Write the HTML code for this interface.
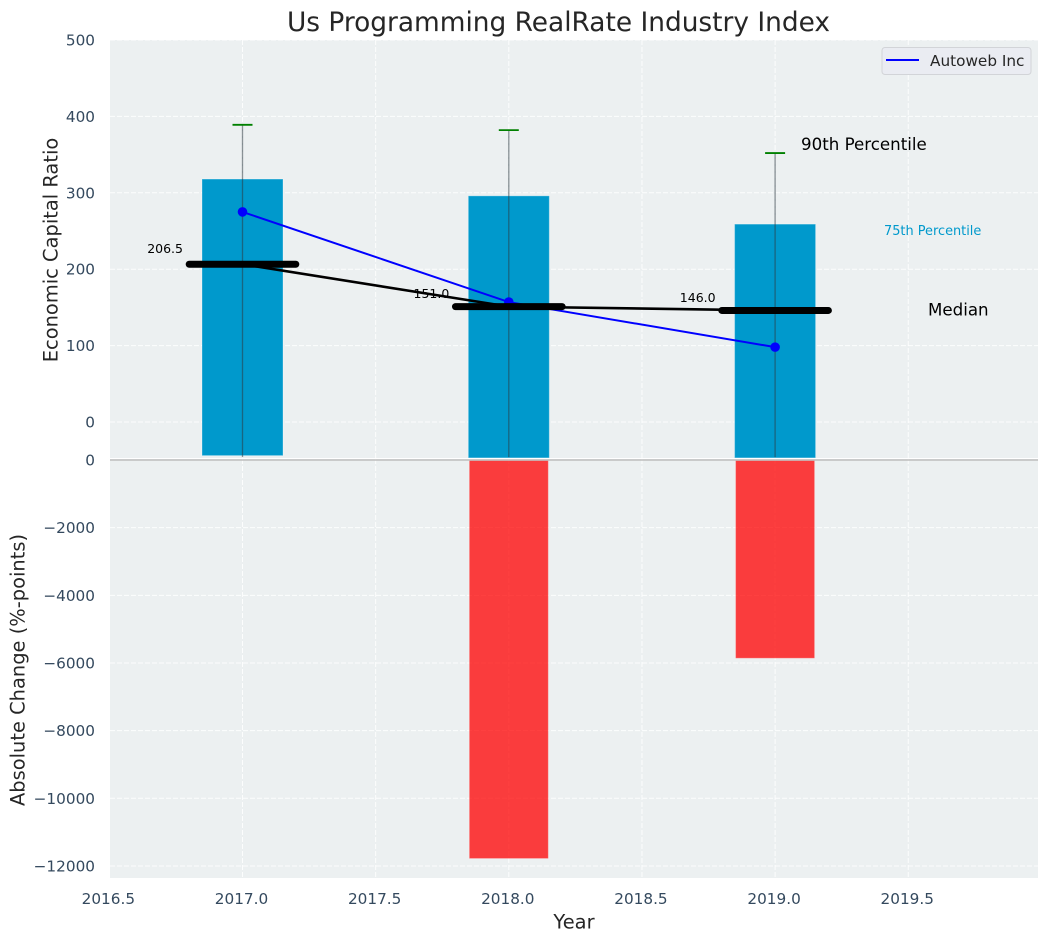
<!DOCTYPE html>
<html lang="en">
<head>
<meta charset="utf-8">
<title>Us Programming RealRate Industry Index</title>
<style>
html,body{margin:0;padding:0;background:#fff;width:1048px;height:942px;overflow:hidden}
svg{display:block;font-family:"DejaVu Sans","Liberation Sans",sans-serif}
</style>
</head>
<body>
<svg id="chart" width="1048" height="942" viewBox="0 0 1048 942" xmlns="http://www.w3.org/2000/svg">
  <text x="558.5" y="31" text-anchor="middle" font-size="26.4" fill="#262626">Us Programming RealRate Industry Index</text>
  <rect x="110" y="40" width="928" height="418" fill="#ecf0f1"/>
  <rect x="110" y="459" width="928" height="419" fill="#ecf0f1"/>
  <g id="grid"></g>
  <g id="lowerBars"></g>
  <g id="upperBars"></g>
  <line x1="110" x2="1038" y1="460" y2="460" stroke="#bdbdbd" stroke-width="1.5"/>
  <g id="whiskers"></g>
  <g id="lines"></g>
  <g id="ticks" font-size="15.28" fill="#34495e"></g>
  <g id="valueLabels" font-size="12.5" fill="#000"></g>
  <text x="574" y="928.5" text-anchor="middle" font-size="19.44" fill="#262626">Year</text>
  <text transform="translate(57.5,250) rotate(-90)" text-anchor="middle" font-size="19.44" fill="#262626">Economic Capital Ratio</text>
  <text transform="translate(24.5,670) rotate(-90)" text-anchor="middle" font-size="19.44" fill="#262626">Absolute Change (%-points)</text>
  <text x="801" y="150" font-size="16.67" fill="#000">90th Percentile</text>
  <text x="884" y="235" font-size="12.9" fill="#0099cc">75th Percentile</text>
  <text x="928" y="315.5" font-size="16.67" fill="#000">Median</text>
  <g>
    <rect x="882" y="47.5" width="149" height="27" rx="3" fill="#eaecf2" stroke="#d2d4d8"/>
    <line x1="886" x2="919" y1="60" y2="60" stroke="#0000ff" stroke-width="2"/>
    <text x="930" y="66" font-size="15.28" fill="#262626">Autoweb Inc</text>
  </g>
</svg>
<script>
const years = [2017, 2018, 2019];
const p75 = [318, 296, 259];
const p25 = [-44, -47, -47];
const p90 = [389, 382, 352];
const whiskerLow = [-46, -46, -46];
const medians = [206.5, 151.0, 146.0];
const companyValues = [275, 157, 98];
const changeYears = [2018, 2019];
const changeValues = [-11780, -5860];
const xTicks = [2016.5, 2017, 2017.5, 2018, 2018.5, 2019, 2019.5];
const upperTicks = [0, 100, 200, 300, 400, 500];
const lowerTicks = [0, -2000, -4000, -6000, -8000, -10000, -12000];

const X = v => 242.5 + (v - 2017) * 266.3;
const YU = v => 422 - v * 0.764;
const YL = v => 460 - v * 0.03383;
const NS = 'http://www.w3.org/2000/svg';
function mk(parent, tag, attrs) {
  const el = document.createElementNS(NS, tag);
  for (const k in attrs) el.setAttribute(k, attrs[k]);
  document.getElementById(parent).appendChild(el);
  return el;
}
const gridAttrs = {stroke: '#fff', 'stroke-width': 1, 'stroke-dasharray': '5 2', 'stroke-opacity': 0.85};

xTicks.forEach(t => {
  const upper = mk('grid', 'line', {x1: X(t), x2: X(t), y1: 40, y2: 458, ...gridAttrs});
  
  
  const lower = mk('grid', 'line', {x1: X(t), x2: X(t), y1: 459, y2: 878, ...gridAttrs});
  
  
  const label = mk('ticks', 'text', {x: X(t) - 1, y: 904, 'text-anchor': 'middle'});
  label.textContent = t.toFixed(1);
  
  
});
upperTicks.forEach(t => {
  const line = mk('grid', 'line', {x1: 110, x2: 1038, y1: YU(t), y2: YU(t), ...gridAttrs});
  
  
  const label = mk('ticks', 'text', {x: 95, y: YU(t) + 5.5, 'text-anchor': 'end'});
  label.textContent = String(t);
  
  
});
lowerTicks.forEach(t => {
  if (t !== 0) {
    const line = mk('grid', 'line', {x1: 110, x2: 1038, y1: YL(t), y2: YL(t), ...gridAttrs});
    
    
  }
  const label = mk('ticks', 'text', {x: 95, y: YL(t) + 5.5, 'text-anchor': 'end'});
  label.textContent = String(t).replace('-', '\u2212');
  
  
});

years.forEach((yr, i) => {
  const bar = mk('upperBars', 'rect', {
    x: X(yr) - 40.5, width: 81,
    y: YU(p75[i]), height: YU(p25[i]) - YU(p75[i]),
    fill: '#0099cc', stroke: '#fff', 'stroke-opacity': 0.3, 'stroke-width': 1
  });
  
  

  const whisker = mk('whiskers', 'line', {
    x1: X(yr), x2: X(yr), y1: YU(p90[i]), y2: YU(whiskerLow[i]),
    stroke: '#2b3a42', 'stroke-opacity': 0.55, 'stroke-width': 1.3
  });
  
  

  const cap = mk('whiskers', 'line', {
    x1: X(yr) - 10, x2: X(yr) + 10, y1: YU(p90[i]), y2: YU(p90[i]),
    stroke: '#008000', 'stroke-width': 1.8
  });
  
  
});

changeYears.forEach((yr, i) => {
  const bar = mk('lowerBars', 'rect', {
    x: X(yr) - 39.5, width: 79,
    y: YL(0) + 0.5, height: YL(changeValues[i]) - YL(0) - 0.5,
    fill: '#ff0000', 'fill-opacity': 0.75, stroke: '#fff', 'stroke-opacity': 0.25, 'stroke-width': 1
  });
  
  
});

const medianLine = mk('lines', 'polyline', {
  points: years.map((yr, i) => X(yr) + ',' + YU(medians[i])).join(' '),
  fill: 'none', stroke: '#000', 'stroke-width': 2.6
});



const companyLine = mk('lines', 'polyline', {
  points: years.map((yr, i) => X(yr) + ',' + YU(companyValues[i])).join(' '),
  fill: 'none', stroke: '#0000ff', 'stroke-width': 2
});



years.forEach((yr, i) => {
  const dot = mk('lines', 'circle', {cx: X(yr), cy: YU(companyValues[i]), r: 4.8, fill: '#0000ff'});
  
  

  const seg = mk('lines', 'line', {
    x1: X(yr) - 53.3, x2: X(yr) + 53.3, y1: YU(medians[i]), y2: YU(medians[i]),
    stroke: '#000', 'stroke-width': 7, 'stroke-linecap': 'round'
  });
  
  

  const label = mk('valueLabels', 'text', {
    x: X(yr) - 59.5, y: YU(medians[i]) - (i === 0 ? 11 : 8.5), 'text-anchor': 'end'
  });
  label.textContent = medians[i].toFixed(1);
  
  
});
</script>
</body>
</html>
